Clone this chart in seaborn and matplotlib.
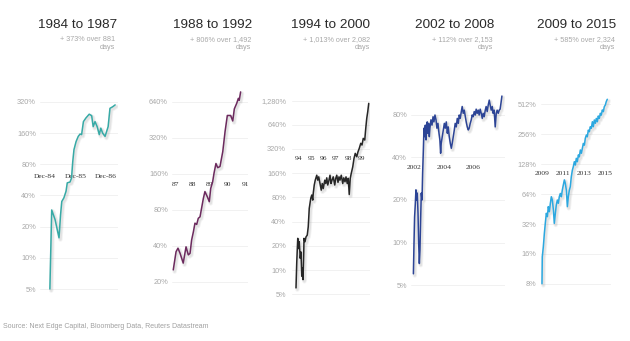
import numpy as np
import pandas as pd
import matplotlib
matplotlib.use("Agg")
import matplotlib.pyplot as plt
import matplotlib.patheffects as pe
from matplotlib.ticker import NullLocator
import seaborn as sns

# ---- data -------------------------------------------------------------
titles = ["1984 to 1987", "1988 to 1992", "1994 to 2000", "2002 to 2008", "2009 to 2015"]
subtitles = ["+ 373% over 881\ndays", "+ 806% over 1,492\ndays", "+ 1,013% over 2,082\ndays",
             "+ 112% over 2,153\ndays", "+ 585% over 2,324\ndays"]
colors = ["#37aaa6", "#6c2a5e", "#262626", "#2c4496", "#2ba8e0"]

p1_x = [1985.08, 1985.14, 1985.25, 1985.38, 1985.43, 1985.47, 1985.54, 1985.61, 1985.65, 1985.74,
        1985.79, 1985.83, 1985.87, 1985.94, 1986.01, 1986.07, 1986.12, 1986.18, 1986.26, 1986.37,
        1986.45, 1986.50, 1986.56, 1986.63, 1986.70, 1986.75, 1986.81, 1986.89, 1986.94, 1986.99,
        1987.05, 1987.14, 1987.22]
p1_y = [5, 29, 23.4, 15.6, 26, 35, 38, 44, 53, 54, 59, 85, 111, 133, 149, 157, 155, 207, 224, 244,
        236, 185, 207, 185, 155, 179, 160, 149, 166, 185, 278, 288, 300]
p1_yticks = [5, 10, 20, 40, 80, 160, 320]
p1_xticks = [1984.92, 1985.92, 1986.92]
p1_xlabels = ["Dec-84", "Dec-85", "Dec-86"]

p2_x = [86.90, 87.06, 87.17, 87.29, 87.47, 87.63, 87.76, 87.86, 87.95, 88.05, 88.14, 88.24, 88.33,
        88.43, 88.62, 88.71, 88.85, 88.96, 89.04, 89.15, 89.23, 89.34, 89.44, 89.57, 89.73, 89.86,
        89.99, 90.18, 90.30, 90.39, 90.53, 90.62, 90.67, 90.75]
p2_y = [25, 35.5, 38, 34.4, 28.5, 39, 33.4, 34.4, 44.5, 52, 61.5, 60, 67.5, 69.5, 99, 113, 102, 93,
        120, 136, 161, 194, 179, 183, 244, 358, 489, 489, 440, 555, 620, 680, 655, 770]
p2_yticks = [20, 40, 80, 160, 320, 640]
p2_xticks = [87, 88, 89, 90, 91]
p2_xlabels = ["87", "88", "89", "90", "91"]

p3_x = [93.80, 93.86, 93.94, 94.02, 94.06, 94.14, 94.20, 94.26, 94.30, 94.36, 94.42, 94.44, 94.52,
        94.60, 94.70, 94.78, 94.86, 94.98, 95.06, 95.14, 95.18, 95.26, 95.34, 95.46, 95.54, 95.62,
        95.72, 95.82, 95.90, 95.98, 96.10, 96.18, 96.26, 96.34, 96.42, 96.52, 96.60, 96.68, 96.78,
        96.90, 96.98, 97.06, 97.16, 97.24, 97.32, 97.42, 97.54, 97.62, 97.72, 97.80, 97.90, 97.98,
        98.06, 98.14, 98.22, 98.34, 98.44, 98.54, 98.66, 98.76, 98.86, 98.98, 99.08, 99.18, 99.30,
        99.38, 99.46, 99.54, 99.62]
p3_y = [6.0, 12.5, 24.8, 18.5, 22.5, 14, 16.8, 8.4, 10.7, 7.6, 16.8, 24.8, 22.5, 25.8, 27.2, 34.5,
        58.5, 77.8, 85.6, 74, 90, 114, 131, 151, 131, 144, 119, 98.5, 119, 103, 131, 119, 140, 114,
        127, 151, 119, 131, 144, 114, 138, 151, 123, 144, 131, 151, 119, 140, 125, 144, 119, 138,
        87, 138, 159, 192, 244, 282, 256, 295, 325, 376, 358, 433, 413, 577, 769, 930, 1180]
p3_yticks = [5, 10, 20, 40, 80, 160, 320, 640, 1280]
p3_xticks = [94, 95, 96, 97, 98, 99]
p3_xlabels = ["94", "95", "96", "97", "98", "99"]

p4_x = [2001.96, 2002.00, 2002.04, 2002.09, 2002.13, 2002.18, 2002.22, 2002.27, 2002.31, 2002.36,
        2002.40, 2002.45, 2002.49, 2002.54, 2002.58, 2002.63, 2002.67, 2002.72, 2002.76, 2002.81,
        2002.85, 2002.89, 2002.94, 2002.98, 2003.03, 2003.07, 2003.14, 2003.21, 2003.28, 2003.34,
        2003.41, 2003.48, 2003.54, 2003.61, 2003.68, 2003.74, 2003.79, 2003.83, 2003.90, 2003.97,
        2004.04, 2004.10, 2004.17, 2004.24, 2004.30, 2004.37, 2004.44, 2004.51, 2004.57, 2004.64,
        2004.71, 2004.77, 2004.84, 2004.91, 2004.98, 2005.04, 2005.11, 2005.18, 2005.24, 2005.31,
        2005.38, 2005.45, 2005.51, 2005.58, 2005.65, 2005.71, 2005.78, 2005.85, 2005.91, 2005.98,
        2006.05, 2006.12, 2006.18, 2006.25, 2006.32, 2006.38, 2006.45, 2006.52, 2006.59, 2006.65,
        2006.72, 2006.79, 2006.85, 2006.92, 2006.99, 2007.06, 2007.12, 2007.19, 2007.26, 2007.32,
        2007.39, 2007.46, 2007.53, 2007.59, 2007.66, 2007.73, 2007.79, 2007.86, 2007.91]
p4_y = [6.0, 9.9, 15.2, 18.9, 23.6, 20, 22.4, 16.1, 10.1, 7.1,
        8.8, 15.2, 22.4, 20, 31, 45.3, 64.5, 56.2, 67.8, 53.3,
        62.7, 71.5, 59.4, 69.8, 56.2, 64.5, 74, 67.8, 77.8, 71.5,
        80, 74, 64.5, 69.8, 59.4, 53.3, 42.9, 50.4, 56.2, 62.7,
        69.8, 64.5, 71.5, 59.4, 65.9, 56.2, 50.4, 46.5, 50.4, 56.2,
        62.7, 69.8, 65.9, 75.7, 69.8, 80, 75.7, 84.6, 91.9, 82.2,
        86.6, 77.8, 71.5, 65.9, 62.7, 64.5, 69.8, 74, 80, 77.8,
        84.6, 80, 88, 82.2, 86.6, 80, 88, 82.2, 75.7, 82.2,
        77.8, 86.6, 91.9, 84.6, 94.2, 102, 94.2, 86.6, 91.9, 82.2,
        86.6, 65.9, 82.2, 86.6, 82.2, 86.6, 88, 99.4, 109]
p4_yticks = [5, 10, 20, 40, 80]
p4_xticks = [2002, 2004, 2006]
p4_xlabels = ["2002", "2004", "2006"]

p5_x = [2008.95, 2008.98, 2009.08, 2009.18, 2009.27, 2009.37, 2009.47, 2009.56, 2009.66, 2009.76,
        2009.85, 2009.95, 2010.05, 2010.14, 2010.24, 2010.33, 2010.43, 2010.53, 2010.62, 2010.72,
        2010.82, 2010.91, 2011.01, 2011.11, 2011.20, 2011.30, 2011.40, 2011.49, 2011.59, 2011.68,
        2011.78, 2011.88, 2011.97, 2012.07, 2012.17, 2012.26, 2012.36, 2012.46, 2012.55, 2012.65,
        2012.75, 2012.84, 2012.94, 2013.04, 2013.13, 2013.23, 2013.32, 2013.42, 2013.52, 2013.61,
        2013.71, 2013.81, 2013.90, 2014.00, 2014.10, 2014.19, 2014.29, 2014.38, 2014.48, 2014.58,
        2014.67, 2014.77, 2014.87, 2014.96, 2015.06, 2015.15, 2015.25]
p5_y = [8.05, 15, 18.9, 25.8, 32.5, 41, 37.9, 47.8, 42.5, 51.7,
        60.1, 55.7, 44.3, 32.5, 41, 49.6, 55.7, 51.7, 60.1, 64.8,
        60.1, 70, 79, 88.7, 82, 70, 47.8, 60.1, 70, 75.8,
        95.6, 111, 120, 135, 125, 146, 135, 158, 151, 177,
        164, 183, 206, 198, 232, 250, 240, 280, 270, 303,
        292, 340, 303, 354, 328, 367, 340, 388, 367, 413,
        396, 446, 429, 481, 500, 541, 571]
p5_yticks = [8, 16, 32, 64, 128, 256, 512]
p5_xticks = [2009, 2011, 2013, 2015]
p5_xlabels = ["2009", "2011", "2013", "2015"]

series = [
    (p1_x, p1_y, p1_yticks, p1_xticks, p1_xlabels),
    (p2_x, p2_y, p2_yticks, p2_xticks, p2_xlabels),
    (p3_x, p3_y, p3_yticks, p3_xticks, p3_xlabels),
    (p4_x, p4_y, p4_yticks, p4_xticks, p4_xlabels),
    (p5_x, p5_y, p5_yticks, p5_xticks, p5_xlabels),
]

# ---- layout (pixel boxes on a 630x341 canvas) ---------------------------
W, H = 630, 341
layout = [
    # axes box x0, x1, y0, y1 | x calibration | y calibration | x-label row | y-label pad px | title right
    dict(box=(40, 118, 95, 295), xr=((45, 1984.92), (106, 1986.92)), yr=((102, 320), (289, 5)),
         xrow=178, pad=4, tx=117, sx=115),
    dict(box=(172, 248, 88, 288), xr=((175, 87), (245, 91)), yr=((101.5, 640), (281.5, 20)),
         xrow=186, pad=4, tx=252, sx=251),
    dict(box=(292, 370, 98, 298), xr=((298.5, 94), (361, 99)), yr=((100.5, 1280), (294.3, 5)),
         xrow=160, pad=6, tx=370, sx=370),
    dict(box=(411, 505, 92, 290), xr=((414, 2002), (473.5, 2006)), yr=((115, 80), (285, 5)),
         xrow=169, pad=4, tx=494, sx=493),
    dict(box=(541, 611, 95, 290), xr=((542.5, 2009), (604.7, 2015)), yr=((104, 512), (284, 8)),
         xrow=175, pad=5, tx=616, sx=615),
]


def px_to_val(p, ref, log=False):
    (pa, va), (pb, vb) = ref
    fa, fb = (np.log2(va), np.log2(vb)) if log else (va, vb)
    v = fa + (p - pa) * (fb - fa) / (pb - pa)
    return 2 ** v if log else v


sns.set_style("white")
plt.rcParams["font.family"] = ["Liberation Sans", "DejaVu Sans"]

fig = plt.figure(figsize=(W / 100, H / 100), dpi=100)
fig.patch.set_facecolor("white")

# soft drop shadow under each line
shadow = [
    pe.SimpleLineShadow(offset=(1.0, -1.2), shadow_color="#888888", alpha=0.10, linewidth=3.2),
    pe.SimpleLineShadow(offset=(1.0, -1.2), shadow_color="#888888", alpha=0.14, linewidth=1.8),
    pe.Normal(),
]

for i, ((xs, ys, yt, xt, xl), lay, col) in enumerate(zip(series, layout, colors)):
    x0, x1, y0, y1 = lay["box"]
    ax = fig.add_axes([x0 / W, 1 - y1 / H, (x1 - x0) / W, (y1 - y0) / H])
    ax.set_facecolor("none")
    df = pd.DataFrame({"x": xs, "y": ys})
    sns.lineplot(data=df, x="x", y="y", ax=ax, color=col, linewidth=1.1,
                 estimator=None, sort=False, zorder=3)
    ax.lines[-1].set_path_effects(shadow)

    ax.set_yscale("log", base=2)
    ax.set_xlim(px_to_val(x0, lay["xr"]), px_to_val(x1, lay["xr"]))
    ax.set_ylim(px_to_val(y1, lay["yr"], log=True), px_to_val(y0, lay["yr"], log=True))

    ax.set_yticks(yt)
    ax.set_yticklabels([f"{v:,}%" for v in yt])
    ax.yaxis.set_minor_locator(NullLocator())
    ax.tick_params(axis="y", length=0, pad=lay["pad"] * 0.72, labelsize=5.3, labelcolor="#a8a8a8")
    for v in yt:
        ax.axhline(v, color="#efefef", linewidth=0.6, zorder=1)

    # x labels sit on a row inside the panel
    ax.spines["bottom"].set_position(("data", px_to_val(lay["xrow"] - 4, lay["yr"], log=True)))
    ax.set_xticks(xt)
    ax.set_xticklabels(xl, family=["Liberation Serif", "DejaVu Serif"])
    ax.xaxis.set_minor_locator(NullLocator())
    ax.tick_params(axis="x", length=0, pad=0, labelsize=5.4, labelcolor="#333333")
    for s in ax.spines.values():
        s.set_visible(False)
    ax.set_xlabel("")
    ax.set_ylabel("")
    ax.grid(False)

    fig.text(lay["tx"] / W, 1 - 24.5 / H, titles[i], ha="right", va="center",
             fontsize=9.7, color="#2a2a2a")
    fig.text(lay["sx"] / W, 1 - 43.3 / H, subtitles[i], ha="right", va="center",
             fontsize=5.2, color="#a8a8a8", linespacing=1.15, multialignment="right")

fig.text(3 / W, 1 - 326 / H, "Source: Next Edge Capital, Bloomberg Data, Reuters Datastream",
         ha="left", va="center", fontsize=5.0, color="#a0a0a0")

fig.savefig("out.png", dpi=100, facecolor="white")
